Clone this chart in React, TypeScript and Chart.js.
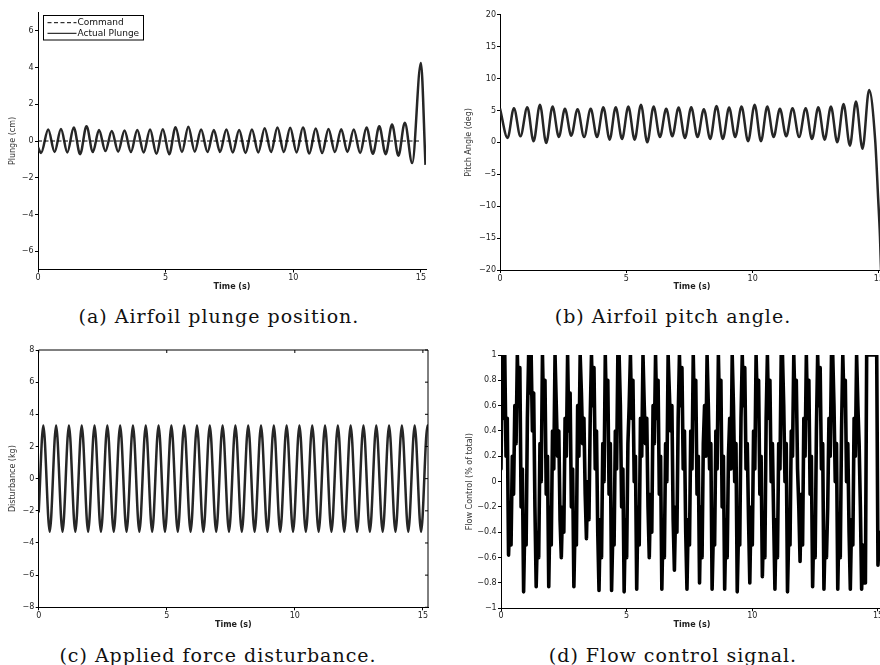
import React, { useEffect, useRef } from 'react';
import { Chart, registerables } from 'chart.js';

Chart.register(...registerables);

const FONT = 'DejaVu Sans';

// ---- tick labels ----
const timeTicks = [0, 5, 10, 15];
const plungeTicks = [-6, -4, -2, 0, 2, 4, 6];
const pitchTicks = [-20, -15, -10, -5, 0, 5, 10, 15, 20];
const disturbanceTicks = [-8, -6, -4, -2, 0, 2, 4, 6, 8];
const flowTicks = [-1, -0.8, -0.6, -0.4, -0.2, 0, 0.2, 0.4, 0.6, 0.8, 1];

// ---- (a) plunge ----
const commandTime = [0, 15.0];
const commandPlunge = [0, 0];
const plungeTime = [
  0, 0.12, 0.40, 0.65, 0.90, 1.15, 1.40, 1.65, 1.90, 2.15, 2.39, 2.64, 2.89, 3.14, 3.39, 3.64,
  3.89, 4.14, 4.39, 4.64, 4.89, 5.14, 5.39, 5.64, 5.89, 6.14, 6.39, 6.64, 6.89, 7.13, 7.38, 7.63,
  7.88, 8.13, 8.38, 8.63, 8.88, 9.13, 9.38, 9.63, 9.88, 10.13, 10.38, 10.63, 10.88, 11.13, 11.38,
  11.63, 11.88, 12.12, 12.37, 12.62, 12.87, 13.12, 13.37, 13.62, 13.87, 14.12, 14.37, 14.66, 15.0, 15.18,
];
const plungeActual = [
  -0.35, -0.65, 0.62, -0.6, 0.65, -0.62, 0.74, -0.72, 0.8, -0.6, 0.6, -0.55, 0.55, -0.58, 0.57, -0.6,
  0.6, -0.62, 0.62, -0.7, 0.64, -0.72, 0.75, -0.6, 0.78, -0.58, 0.62, -0.6, 0.6, -0.6, 0.62, -0.62,
  0.6, -0.65, 0.62, -0.62, 0.7, -0.6, 0.74, -0.6, 0.72, -0.62, 0.74, -0.68, 0.68, -0.66, 0.66,
  -0.6, 0.64, -0.6, 0.62, -0.65, 0.74, -0.7, 0.8, -0.72, 0.9, -0.8, 1.0, -1.2, 4.25, -1.3,
];

// ---- (b) pitch ----
const pitchTime = [
  0, 0.30, 0.55, 0.81, 1.08, 1.33, 1.58, 1.83, 2.08, 2.33, 2.57, 2.82, 3.07, 3.33, 3.59, 3.84,
  4.09, 4.34, 4.58, 4.83, 5.08, 5.33, 5.58, 5.83, 6.08, 6.33, 6.58, 6.82, 7.07, 7.32, 7.57, 7.82,
  8.07, 8.32, 8.57, 8.82, 9.07, 9.31, 9.56, 9.82, 10.08, 10.33, 10.58, 10.83, 11.08, 11.33, 11.58,
  11.84, 12.10, 12.35, 12.60, 12.85, 13.10, 13.35, 13.60, 13.85, 14.09, 14.35, 14.61, 14.85, 14.97,
  15.04, 15.14,
];
const pitchAngle = [
  5.3, 0.68, 5.36, 0.94, 5.5, 0.16, 5.9, -0.1, 5.6, 0.83, 5.26, 1.04, 5.2, 0.83, 5.26, 0.83,
  5.5, 0.42, 5.5, 0.52, 5.6, 0.42, 5.9, 0.0, 5.6, 0.83, 5.26, 0.94, 5.45, 0.68, 5.5, 0.83,
  5.2, 0.52, 5.7, 0.52, 5.45, 0.83, 5.6, 0.16, 5.9, 0.16, 5.6, 0.83, 5.26, 0.94, 5.36,
  0.83, 5.36, 0.52, 5.5, 0.42, 5.6, 0.0, 6.0, -0.52, 6.4, -1.0, 8.2, 0.4, -8.9,
  -14.7, -27,
];

// ---- (c) disturbance ----
const disturbanceTime = [
  0, 0.18, 0.43, 0.68, 0.93, 1.18, 1.43, 1.68, 1.93, 2.18, 2.43, 2.68, 2.93, 3.18, 3.43, 3.68,
  3.93, 4.18, 4.43, 4.68, 4.93, 5.18, 5.43, 5.68, 5.93, 6.18, 6.43, 6.68, 6.93, 7.18, 7.43, 7.68,
  7.93, 8.18, 8.43, 8.68, 8.93, 9.18, 9.43, 9.68, 9.93, 10.18, 10.43, 10.68, 10.93, 11.18, 11.43,
  11.68, 11.93, 12.18, 12.43, 12.68, 12.93, 13.18, 13.43, 13.68, 13.93, 14.18, 14.43, 14.68, 14.93,
  15.18, 15.2,
];
const disturbance = [
  -2.1, 3.3, -3.3, 3.3, -3.3, 3.3, -3.3, 3.3, -3.3, 3.3, -3.3, 3.3, -3.3, 3.3, -3.3, 3.3,
  -3.3, 3.3, -3.3, 3.3, -3.3, 3.3, -3.3, 3.3, -3.3, 3.3, -3.3, 3.3, -3.3, 3.3, -3.3, 3.3,
  -3.3, 3.3, -3.3, 3.3, -3.3, 3.3, -3.3, 3.3, -3.3, 3.3, -3.3, 3.3, -3.3, 3.3, -3.3,
  3.3, -3.3, 3.3, -3.3, 3.3, -3.3, 3.3, -3.3, 3.3, -3.3, 3.3, -3.3, 3.3, -3.3,
  3.3, 3.25,
];

// ---- (d) flow control, sampled every 0.05 s (one row = 0.5 s) ----
const FLOW_DT = 0.05;
const flowControl = [
  0.1, 1.0, 0.5, 1.0, 0.2, 0.5, -0.58, -0.3, -0.5, 0.2,
  -0.1, 0.6, 0.3, 1.0, 0.6, 0.9, -0.2, 0.1, -0.87, -0.3,
  -0.5, 0.5, 1.0, 0.7, 1.0, 0.4, 0.7, -0.2, -0.83, -0.4,
  -0.6, 0.3, 0.0, 1.0, 0.5, 0.8, -0.1, 0.2, -0.83, -0.2,
  -0.5, 0.4, 0.1, 1.0, 0.6, 0.2, 0.4, -0.3, -0.6, -0.2,
  -0.4, 0.5, 0.2, 1.0, 0.4, 0.7, -0.2, 0.1, -0.83, -0.3,
  -0.5, 0.6, 0.2, 1.0, 0.7, 0.3, 0.5, -0.1, -0.45, 0.0,
  -0.3, 0.5, 1.0, 0.6, 0.9, 0.1, 0.4, -0.4, -0.86, -0.3,
  -0.6, 0.3, 0.0, 1.0, 0.5, 0.8, -0.1, 0.3, -0.86, -0.4,
  -0.5, 0.4, 0.1, 1.0, 1.0, 0.6, -0.2, 0.1, -0.87, -0.3,
  -0.6, 0.3, 0.6, 1.0, 0.5, 0.8, 0.0, 0.2, -0.85, -0.2,
  -0.5, 0.5, 0.2, 1.0, 0.6, 0.3, 0.5, -0.2, -0.6, -0.1,
  -0.4, 0.6, 0.3, 1.0, 0.5, 0.8, -0.1, 0.2, -0.85, -0.3,
  -0.6, 0.3, 0.0, 1.0, 0.7, 0.4, 0.6, -0.3, -0.7, -0.2,
  -0.4, 0.5, 1.0, 0.6, 0.9, 0.1, 0.4, -0.4, -0.85, -0.3,
  -0.5, 0.4, 0.1, 1.0, 0.5, 0.8, -0.1, 0.2, -0.8, -0.2,
  -0.6, 0.3, 0.6, 0.2, 1.0, 0.6, 0.1, 0.3, -0.85, -0.4,
  -0.5, 0.4, 0.1, 1.0, 0.5, 0.8, -0.2, 0.2, -0.85, -0.3,
  -0.6, 0.2, 0.5, 0.1, 1.0, 0.6, 0.0, 0.3, -0.87, -0.4,
  -0.5, 0.5, 1.0, 0.6, 0.9, 0.1, 0.3, -0.3, -0.8, -0.2,
  -0.5, 0.4, 0.1, 1.0, 0.6, 0.8, -0.1, 0.2, -0.75, -0.3,
  -0.6, 0.5, 1.0, 0.5, 0.8, 0.0, 0.3, -0.3, -0.85, -0.3,
  -0.6, 0.3, 0.1, 1.0, 1.0, 0.6, 0.0, 0.3, -0.87, -0.4,
  -0.5, 0.4, 0.2, 1.0, 0.6, 0.8, 0.1, -0.2, -0.63, -0.1,
  -0.5, 0.5, 0.2, 1.0, 0.5, 0.8, -0.1, 0.2, -0.83, -0.3,
  -0.6, 0.4, 1.0, 0.6, 0.9, 0.1, 0.3, -0.85, -0.4, -0.6,
  -0.2, 0.5, 0.2, 1.0, 1.0, 0.6, 0.0, 0.3, -0.85, -0.3,
  -0.6, 0.4, 1.0, 0.6, 0.8, 0.0, 0.3, -0.4, -0.85, -0.3,
  -0.5, 0.5, 0.2, 1.0, 0.6, 0.3, -0.2, -0.85, -0.5, -0.8,
  -0.8, 1.0, 1.0, 1.0, 1.0, 1.0, 1.0, 1.0, 1.0, 1.0,
  -0.66, -0.45, -0.4, -0.4, -0.4,
];
const flowTime = flowControl.map((_, i) => Math.round(i * FLOW_DT * 100) / 100);

const toPoints = (xs: number[], ys: number[]) => xs.map((x, i) => ({ x, y: ys[i] }));
const fmt = (v: number | string) => String(v).replace('-', '\u2212');

const legendPlugin = {
  id: 'boxLegend',
  afterDraw(chart: any) {
    const { ctx, chartArea: a } = chart;
    const x0 = Math.round(a.left + 4.7) + 0.5;
    const y0 = Math.round(a.top + 2.8) + 0.5;
    const w = 100;
    const h = 24.5;
    ctx.save();
    ctx.fillStyle = '#fff';
    ctx.fillRect(x0, y0, w, h);
    ctx.strokeStyle = '#000';
    ctx.lineWidth = 1;
    ctx.strokeRect(x0, y0, w, h);
    chart.data.datasets.forEach((ds: any, i: number) => {
      const y = y0 + 7.2 + i * 10.6;
      ctx.strokeStyle = '#000';
      ctx.lineWidth = 1;
      ctx.setLineDash(ds.borderDash || []);
      ctx.beginPath();
      ctx.moveTo(x0 + 4, y);
      ctx.lineTo(x0 + 33, y);
      ctx.stroke();
      ctx.setLineDash([]);
      ctx.fillStyle = '#111';
      ctx.font = `9px "${FONT}"`;
      ctx.textBaseline = 'middle';
      ctx.textAlign = 'left';
      ctx.fillText(ds.label, x0 + 34, y);
    });
    ctx.restore();
  },
};

const framePlugin = {
  id: 'frame',
  afterDraw(chart: any) {
    const { ctx, chartArea: a, scales } = chart;
    ctx.save();
    ctx.strokeStyle = '#000';
    ctx.lineWidth = 1;
    ctx.beginPath();
    ctx.moveTo(a.left, a.top);
    ctx.lineTo(a.right, a.top);
    ctx.lineTo(a.right, a.bottom);
    scales.x.ticks.forEach((t: any) => {
      const x = scales.x.getPixelForValue(t.value);
      ctx.moveTo(x, a.top);
      ctx.lineTo(x, a.top + 3);
    });
    scales.y.ticks.forEach((t: any) => {
      const y = scales.y.getPixelForValue(t.value);
      ctx.moveTo(a.right, y);
      ctx.lineTo(a.right - 3, y);
    });
    ctx.stroke();
    ctx.restore();
  },
};

type Spec = {
  left: number; top: number; w: number; h: number;
  datasets: any[];
  yMin: number; yMax: number; yTicks: number[]; yTitle: string;
  padTop: number; padRight: number; yAxisW: number; xAxisH: number;
  yTickPad: number; yTitlePad: number; xTickPad: number; xTitlePad: number;
  plugins?: any[];
};

function buildConfig(s: Spec): any {
  return {
    type: 'line',
    data: { datasets: s.datasets },
    options: {
      animation: false,
      responsive: false,
      maintainAspectRatio: false,
      events: [],
      layout: { padding: { left: 0, top: s.padTop, right: s.padRight, bottom: 0 } },
      plugins: { legend: { display: false }, tooltip: { enabled: false } },
      elements: { point: { radius: 0 } },
      scales: {
        x: {
          type: 'linear',
          min: 0,
          max: 15.2,
          afterBuildTicks: (sc: any) => { sc.ticks = timeTicks.map((v) => ({ value: v })); },
          afterFit: (sc: any) => { sc.height = s.xAxisH; },
          grid: { display: true, drawOnChartArea: false, drawTicks: true, tickLength: 3, color: '#000', lineWidth: 1 },
          border: { display: true, color: '#000', width: 1 },
          ticks: {
            autoSkip: false, maxRotation: 0, padding: s.xTickPad, color: '#222',
            font: { family: FONT, size: 8 }, callback: fmt,
          },
          title: {
            display: true, text: 'Time (s)', color: '#222',
            font: { family: FONT, size: 8, weight: 'bold' },
            padding: { top: 0, bottom: s.xTitlePad },
          },
        },
        y: {
          type: 'linear',
          position: 'left',
          min: s.yMin,
          max: s.yMax,
          afterBuildTicks: (sc: any) => { sc.ticks = s.yTicks.map((v) => ({ value: v })); },
          afterFit: (sc: any) => { sc.width = s.yAxisW; },
          grid: { display: true, drawOnChartArea: false, drawTicks: true, tickLength: 3, color: '#000', lineWidth: 1 },
          border: { display: true, color: '#000', width: 1 },
          ticks: {
            autoSkip: false, padding: s.yTickPad, color: '#222',
            font: { family: FONT, size: 8 }, callback: fmt,
          },
          title: {
            display: true, text: s.yTitle, color: '#333',
            font: { family: FONT, size: 8 },
            padding: { top: s.yTitlePad, bottom: 0 },
          },
        },
      },
    },
    plugins: s.plugins || [],
  };
}

function Panel({ spec }: { spec: Spec }) {
  const ref = useRef<HTMLCanvasElement | null>(null);
  useEffect(() => {
    if (!ref.current) return;
    const chart = new Chart(ref.current, buildConfig(spec));
    return () => chart.destroy();
  }, []);
  return (
    <canvas
      ref={ref}
      width={spec.w}
      height={spec.h}
      style={{ position: 'absolute', left: spec.left, top: spec.top, width: spec.w, height: spec.h }}
    />
  );
}

const lineStyle = { borderColor: '#262626', borderWidth: 2.5, cubicInterpolationMode: 'monotone', pointRadius: 0, fill: false };

const specA: Spec = {
  left: 0, top: 0, w: 440, h: 300,
  datasets: [
    { label: 'Command', data: toPoints(commandTime, commandPlunge), borderColor: '#000', borderWidth: 1, borderDash: [4, 2.5], pointRadius: 0, fill: false },
    { label: 'Actual Plunge', data: toPoints(plungeTime, plungeActual), ...lineStyle },
  ],
  yMin: -7, yMax: 7, yTicks: plungeTicks, yTitle: 'Plunge (cm)',
  padTop: 12.5, padRight: 14, yAxisW: 38, xAxisH: 30.5,
  yTickPad: 1.5, yTitlePad: 8.5, xTickPad: 0.5, xTitlePad: 8.5,
  plugins: [legendPlugin],
};

const specB: Spec = {
  left: 440, top: 0, w: 460, h: 300,
  datasets: [{ label: 'Pitch', data: toPoints(pitchTime, pitchAngle), ...lineStyle }],
  yMin: -20, yMax: 20, yTicks: pitchTicks, yTitle: 'Pitch Angle (deg)',
  padTop: 14.7, padRight: 16, yAxisW: 60, xAxisH: 30,
  yTickPad: 1, yTitlePad: 24.5, xTickPad: 1, xTitlePad: 8.5,
};

const specC: Spec = {
  left: 0, top: 330, w: 440, h: 305,
  datasets: [{ label: 'Disturbance', data: toPoints(disturbanceTime, disturbance), ...lineStyle }],
  yMin: -8, yMax: 8, yTicks: disturbanceTicks, yTitle: 'Disturbance (kg)',
  padTop: 20, padRight: 12, yAxisW: 38.7, xAxisH: 27.7,
  yTickPad: 1.4, yTitlePad: 8.5, xTickPad: 1, xTitlePad: 4.9,
  plugins: [framePlugin],
};

const specD: Spec = {
  left: 440, top: 330, w: 460, h: 305,
  datasets: [{
    label: 'Flow Control', data: toPoints(flowTime, flowControl), borderColor: '#000', borderWidth: 3.6,
    borderJoinStyle: 'round', borderCapStyle: 'round', tension: 0, pointRadius: 0, fill: false,
  }],
  yMin: -1, yMax: 1, yTicks: flowTicks, yTitle: 'Flow Control (% of total)',
  padTop: 25, padRight: 17, yAxisW: 61, xAxisH: 26.7,
  yTickPad: 1.3, yTitlePad: 25.2, xTickPad: 0, xTitlePad: 4.9,
};

const captions = [
  { text: '(a) Airfoil plunge position.', cx: 219, cy: 316 },
  { text: '(b) Airfoil pitch angle.', cx: 673, cy: 316 },
  { text: '(c) Applied force disturbance.', cx: 218, cy: 655 },
  { text: '(d) Flow control signal.', cx: 673, cy: 655 },
];

export default function App() {
  return (
    <div style={{ position: 'fixed', left: 0, top: 0, width: 880, height: 665, overflow: 'hidden', background: '#fff' }}>
      <Panel spec={specA} />
      <Panel spec={specB} />
      <Panel spec={specC} />
      <Panel spec={specD} />
      {captions.map((c) => (
        <div
          key={c.text}
          style={{
            position: 'absolute', left: c.cx - 220, top: c.cy - 12, width: 440, height: 24,
            lineHeight: '24px', textAlign: 'center', whiteSpace: 'nowrap',
            fontFamily: '"DejaVu Serif", serif', fontSize: 19, letterSpacing: '1px', color: '#111',
          }}
        >
          {c.text}
        </div>
      ))}
    </div>
  );
}
